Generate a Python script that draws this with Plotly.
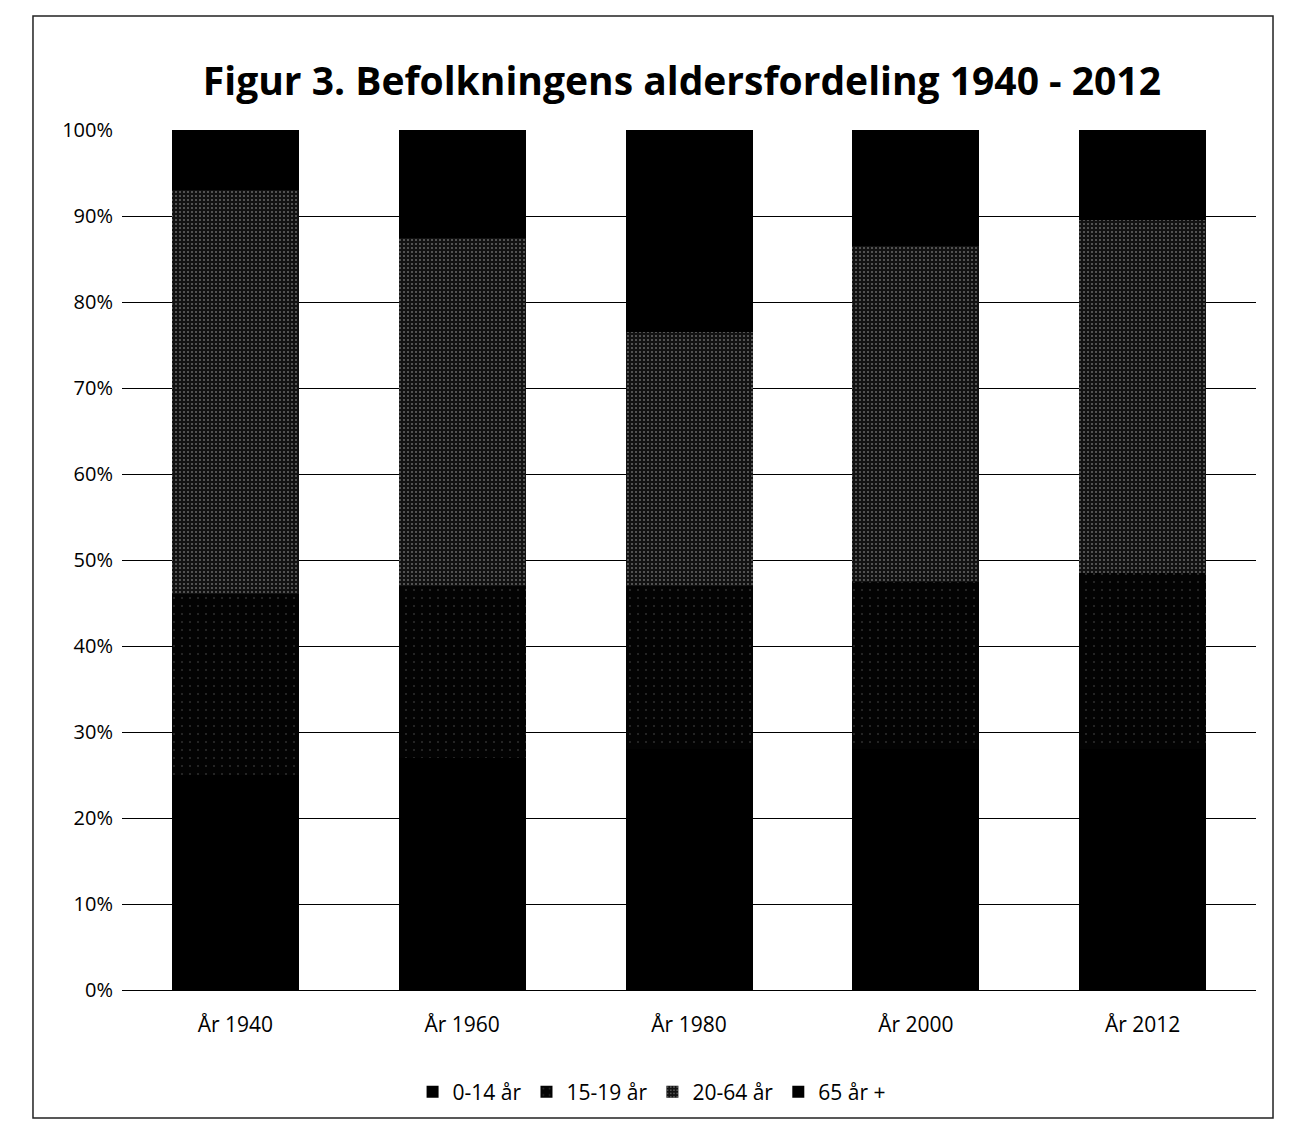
import plotly.graph_objects as go

years = ["År 1940", "År 1960", "År 1980", "År 2000", "År 2012"]
age_0_14 = [25, 27, 28, 28, 28]
age_15_19 = [21, 20, 19, 19.5, 20.5]
age_20_64 = [47, 40.5, 29.5, 39, 41]
age_65_plus = [7, 12.5, 23.5, 13.5, 10.5]

series = [
    ("0-14 år", age_0_14, dict(color="#000000")),
    ("15-19 år", age_15_19, dict(color="#030303",
                                 pattern=dict(shape=".", bgcolor="#030303", fgcolor="#5a5a5a",
                                              size=8, solidity=0.05))),
    ("20-64 år", age_20_64, dict(color="#121212",
                                 pattern=dict(shape=".", bgcolor="#121212", fgcolor="#bdbdbd",
                                              size=4, solidity=0.2))),
    ("65 år +", age_65_plus, dict(color="#000000")),
]

fig = go.Figure()
for name, vals, marker in series:
    fig.add_trace(go.Bar(x=years, y=vals, name=name, marker=marker, marker_line_width=0))

fig.update_layout(
    barmode="stack",
    bargap=0.44,
    width=1296, height=1131,
    plot_bgcolor="white",
    paper_bgcolor="white",
    font=dict(family="Open Sans, sans-serif", size=20, color="#000000"),
    title=dict(text="<b>Figur 3. Befolkningens aldersfordeling 1940 - 2012</b>",
               x=0.52, xanchor="center", y=0.935, yanchor="middle",
               font=dict(size=39, family="Open Sans, sans-serif")),
    margin=dict(l=114, r=48, t=122, b=149),
    legend=dict(orientation="h", x=0.467, xanchor="center", y=-0.095, yanchor="top",
                font=dict(size=21), traceorder="normal"),
    shapes=[dict(type="rect", xref="paper", yref="paper",
                 x0=-0.0785, x1=1.015, y0=-0.1488, y1=1.1326,
                 line=dict(color="#222222", width=1.5))],
)
fig.update_yaxes(range=[0, 100], dtick=10, ticksuffix="%", showgrid=True,
                 gridcolor="#000000", gridwidth=1, zeroline=False, ticks="",
                 ticklabelstandoff=8, tickfont=dict(size=20))
fig.update_xaxes(showline=True, linecolor="#000000", linewidth=1, tickfont=dict(size=21),
                 ticks="", ticklabelstandoff=16)

fig.write_html("out.html")
